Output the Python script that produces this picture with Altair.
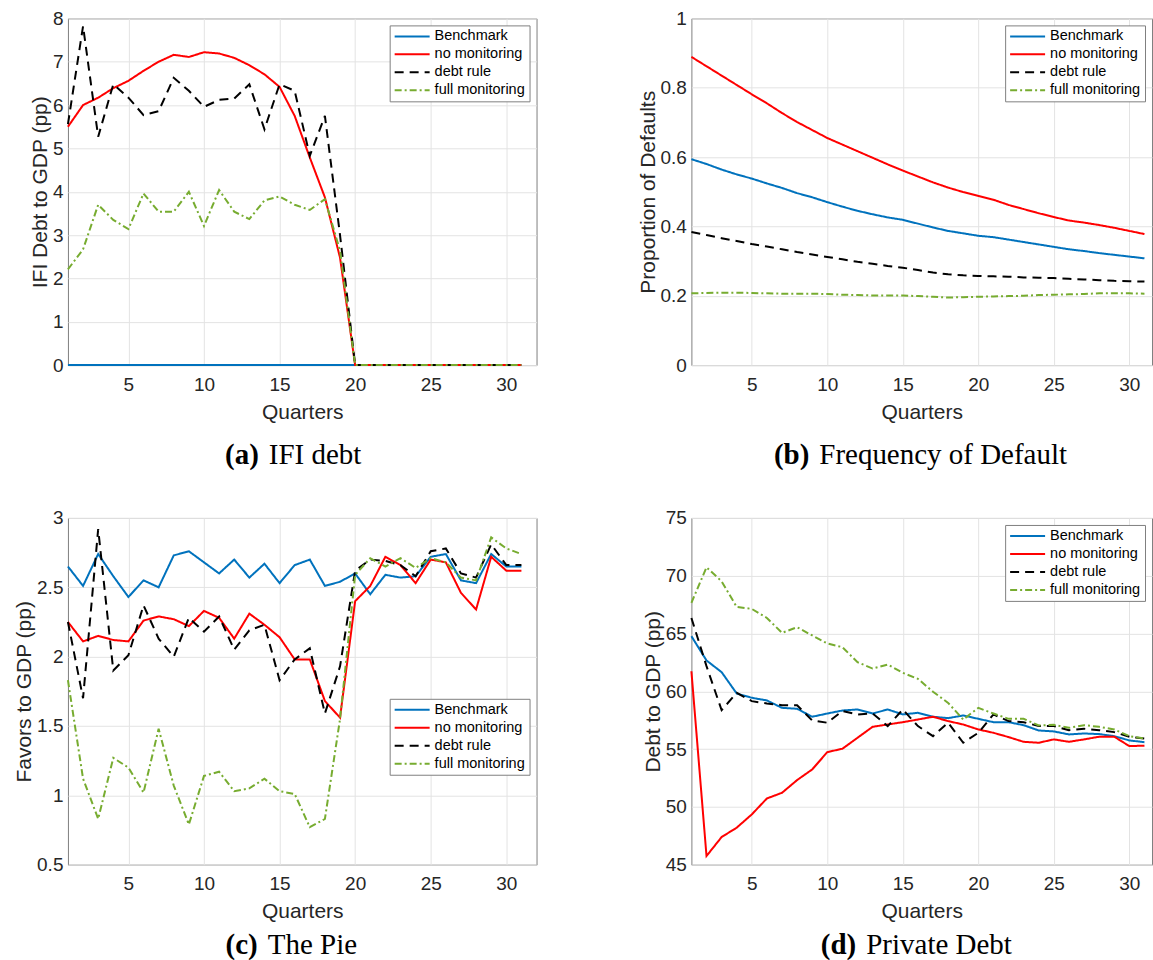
import altair as alt
import pandas as pd

quarters = list(range(1, 32))
series_names = ["Benchmark", "no monitoring", "debt rule", "full monitoring"]
series_colors = ["#0072BD", "#FF0000", "#000000", "#77AC30"]
series_dashes = [[1, 0], [1, 0], [9, 6], [7, 3, 2, 3]]

# (a) IFI debt
a_bench = [0, 0, 0, 0, 0, 0, 0, 0, 0, 0, 0, 0, 0, 0, 0, 0, 0, 0, 0, 0, 0, 0, 0, 0, 0, 0, 0, 0, 0, 0, 0]
a_nomon = [5.50, 6.00, 6.17, 6.39, 6.56, 6.79, 7.00, 7.16, 7.11, 7.22, 7.19, 7.09, 6.92, 6.71, 6.42, 5.75,
           4.79, 3.87, 2.48, 0, 0, 0, 0, 0, 0, 0, 0, 0, 0, 0, 0]
a_debt = [5.56, 7.82, 5.27, 6.48, 6.17, 5.77, 5.86, 6.63, 6.33, 5.96, 6.12, 6.15, 6.48, 5.44, 6.48, 6.33,
          4.83, 5.75, 3.00, 0, 0, 0, 0, 0, 0, 0, 0, 0, 0, 0, 0]
a_full = [2.21, 2.67, 3.70, 3.35, 3.14, 3.96, 3.54, 3.54, 4.00, 3.21, 4.04, 3.54, 3.37, 3.80, 3.89, 3.70,
          3.58, 3.83, 2.64, 0, 0, 0, 0, 0, 0, 0, 0, 0, 0, 0, 0]

# (b) Frequency of Default
b_bench = [0.594, 0.580, 0.564, 0.550, 0.538, 0.524, 0.511, 0.496, 0.484, 0.470, 0.457, 0.445, 0.435, 0.426,
           0.419, 0.408, 0.397, 0.387, 0.380, 0.373, 0.369, 0.362, 0.355, 0.348, 0.341, 0.334, 0.329, 0.323,
           0.318, 0.313, 0.308]
b_nomon = [0.889, 0.862, 0.835, 0.808, 0.781, 0.755, 0.727, 0.701, 0.678, 0.655, 0.636, 0.617, 0.598, 0.579,
           0.561, 0.544, 0.527, 0.512, 0.499, 0.488, 0.477, 0.462, 0.450, 0.438, 0.427, 0.417, 0.411, 0.404,
           0.396, 0.387, 0.378]
b_debt = [0.384, 0.375, 0.366, 0.358, 0.349, 0.342, 0.334, 0.326, 0.319, 0.312, 0.305, 0.298, 0.292, 0.286,
          0.281, 0.274, 0.267, 0.262, 0.259, 0.257, 0.256, 0.255, 0.253, 0.252, 0.251, 0.249, 0.247, 0.245,
          0.243, 0.242, 0.241]
b_full = [0.207, 0.208, 0.209, 0.209, 0.208, 0.207, 0.206, 0.206, 0.206, 0.205, 0.203, 0.202, 0.201, 0.201,
          0.201, 0.199, 0.197, 0.195, 0.196, 0.197, 0.198, 0.199, 0.200, 0.202, 0.203, 0.204, 0.205, 0.207,
          0.207, 0.207, 0.206]

# (c) The Pie
c_bench = [2.65, 2.51, 2.74, 2.58, 2.43, 2.55, 2.50, 2.73, 2.76, 2.68, 2.60, 2.70, 2.57, 2.67, 2.53, 2.66,
           2.70, 2.51, 2.54, 2.60, 2.45, 2.59, 2.57, 2.58, 2.72, 2.74, 2.55, 2.53, 2.74, 2.65, 2.65]
c_nomon = [2.25, 2.11, 2.15, 2.12, 2.11, 2.26, 2.29, 2.27, 2.22, 2.33, 2.28, 2.13, 2.31, 2.23, 2.14, 1.98,
           1.98, 1.68, 1.56, 2.40, 2.51, 2.72, 2.66, 2.53, 2.70, 2.68, 2.46, 2.34, 2.72, 2.62, 2.62]
c_debt = [2.25, 1.70, 2.92, 1.90, 2.01, 2.37, 2.13, 2.00, 2.28, 2.18, 2.29, 2.05, 2.19, 2.23, 1.83, 1.98,
          2.06, 1.59, 1.93, 2.62, 2.70, 2.69, 2.66, 2.58, 2.76, 2.78, 2.60, 2.57, 2.81, 2.66, 2.66]
c_full = [1.83, 1.12, 0.83, 1.27, 1.20, 1.02, 1.48, 1.07, 0.79, 1.14, 1.17, 1.03, 1.05, 1.12, 1.03, 1.01,
          0.77, 0.83, 1.55, 2.59, 2.71, 2.65, 2.71, 2.64, 2.71, 2.68, 2.57, 2.55, 2.86, 2.78, 2.74]

# (d) Private Debt
d_bench = [64.77, 62.67, 61.66, 59.81, 59.44, 59.21, 58.57, 58.49, 57.80, 58.08, 58.34, 58.43, 58.08, 58.43,
           58.00, 58.14, 57.80, 57.68, 57.91, 57.62, 57.33, 57.33, 57.07, 56.61, 56.53, 56.27, 56.35, 56.30,
           56.12, 55.75, 55.60]
d_nomon = [61.74, 45.75, 47.39, 48.20, 49.35, 50.73, 51.22, 52.32, 53.24, 54.74, 55.03, 55.98, 56.93, 57.13,
           57.33, 57.56, 57.80, 57.42, 57.13, 56.70, 56.41, 56.04, 55.63, 55.55, 55.84, 55.63, 55.84, 56.07,
           56.07, 55.26, 55.30]
d_debt = [66.35, 62.18, 58.37, 59.87, 59.15, 58.95, 58.80, 58.80, 57.48, 57.28, 58.29, 58.00, 58.08, 56.99,
          58.43, 56.99, 56.12, 57.28, 55.55, 56.41, 58.00, 57.42, 57.33, 56.99, 56.99, 56.64, 56.76, 56.64,
          56.47, 56.07, 55.92]
d_full = [67.65, 70.73, 69.52, 67.30, 67.13, 66.35, 65.06, 65.55, 64.83, 64.14, 63.82, 62.52, 61.97, 62.32,
          61.60, 61.08, 59.96, 59.00, 57.56, 58.57, 58.08, 57.62, 57.62, 57.05, 57.10, 56.84, 57.07, 56.93,
          56.70, 56.12, 55.92]

x_ticks = [5, 10, 15, 20, 25, 30]
SANS = "Liberation Sans"
SERIF = "Liberation Serif"
PLOT_H = 347


def panel(values, ytitle, ydomain, yticks, xdomain, width, legend_kw, cap_label, cap_text, cap_x, cap_y):
    rows = []
    for name, vals in zip(series_names, values):
        for q, v in zip(quarters, vals):
            rows.append({"q": q, "v": v, "series": name})
    df = pd.DataFrame(rows)

    legend = alt.Legend(
        title=None, fillColor="white", strokeColor="#7f7f7f", padding=4,
        labelFont=SANS, labelFontSize=14.5, labelColor="#000000", labelOffset=4,
        symbolType="stroke", symbolSize=1225, symbolStrokeWidth=2, clipHeight=14,
        rowPadding=3, **legend_kw)
    cscale = alt.Scale(domain=series_names, range=series_colors)
    dscale = alt.Scale(domain=series_names, range=series_dashes)

    layers = []
    for name in series_names:
        layers.append(
            alt.Chart(df).transform_filter(alt.datum.series == name).mark_line(strokeWidth=2).encode(
                x=alt.X("q:Q", scale=alt.Scale(domain=xdomain, nice=False, zero=False),
                        axis=alt.Axis(values=x_ticks, title="Quarters", format="d",
                                      labelPadding=10, titlePadding=7)),
                y=alt.Y("v:Q", scale=alt.Scale(domain=ydomain, nice=False, zero=False),
                        axis=alt.Axis(values=yticks, title=ytitle, format="~g",
                                      labelPadding=5, titlePadding=2)),
                color=alt.Color("series:N", scale=cscale, legend=legend),
                strokeDash=alt.StrokeDash("series:N", scale=dscale, legend=legend),
            )
        )
    one = alt.Data(values=[{"k": 1}])
    cap1 = alt.Chart(one).mark_text(
        text=cap_label, font=SERIF, fontSize=29, fontWeight="bold", align="right",
        baseline="alphabetic", color="#000000").encode(x=alt.value(cap_x - 4), y=alt.value(cap_y))
    cap2 = alt.Chart(one).mark_text(
        text=cap_text, font=SERIF, fontSize=29, fontWeight="normal", align="left",
        baseline="alphabetic", color="#000000").encode(x=alt.value(cap_x + 6), y=alt.value(cap_y))
    return alt.layer(*layers, cap1, cap2).properties(width=width, height=PLOT_H)


tr = {"orient": "top-right", "offset": 7}
pa = panel([a_bench, a_nomon, a_debt, a_full], "IFI Debt to GDP (pp)", [0, 8],
           [0, 1, 2, 3, 4, 5, 6, 7, 8], [1, 32], 469, tr, "(a)", "IFI debt", 195, PLOT_H + 99)
pb = panel([b_bench, b_nomon, b_debt, b_full], "Proportion of Defaults", [0, 1],
           [0, 0.2, 0.4, 0.6, 0.8, 1], [1, 31.5], 461, tr, "(b)", "Frequency of Default", 122, PLOT_H + 99)
pc = panel([c_bench, c_nomon, c_debt, c_full], "Favors to GDP (pp)", [0.5, 3],
           [0.5, 1, 1.5, 2, 2.5, 3], [1, 32], 469,
           {"orient": "none", "legendX": 322, "legendY": 181}, "(c)", "The Pie", 194, 436)
pd_ = panel([d_bench, d_nomon, d_debt, d_full], "Debt to GDP (pp)", [45, 75],
            [45, 50, 55, 60, 65, 70, 75], [1, 31.5], 461, tr, "(d)", "Private Debt", 169, 436)

chart = alt.concat(
    pa, pb, pc, pd_, columns=2, spacing={"row": 153, "column": 155}, bounds="flush"
).resolve_scale(
    color="independent", strokeDash="independent"
).resolve_legend(
    color="independent", strokeDash="independent"
).properties(
    padding={"left": 13, "top": 8, "right": 0, "bottom": 0}, background="white"
).configure_view(
    stroke="#7f7f7f", strokeWidth=1
).configure_axis(
    grid=True, gridColor="#e3e3e3", gridWidth=1, domain=False, ticks=False,
    labelFont=SANS, labelFontSize=19, labelColor="#262626",
    titleFont=SANS, titleFontSize=21, titleFontWeight="normal", titleColor="#262626",
)

chart.save("out.html", embed_options={"renderer": "svg", "actions": False})
